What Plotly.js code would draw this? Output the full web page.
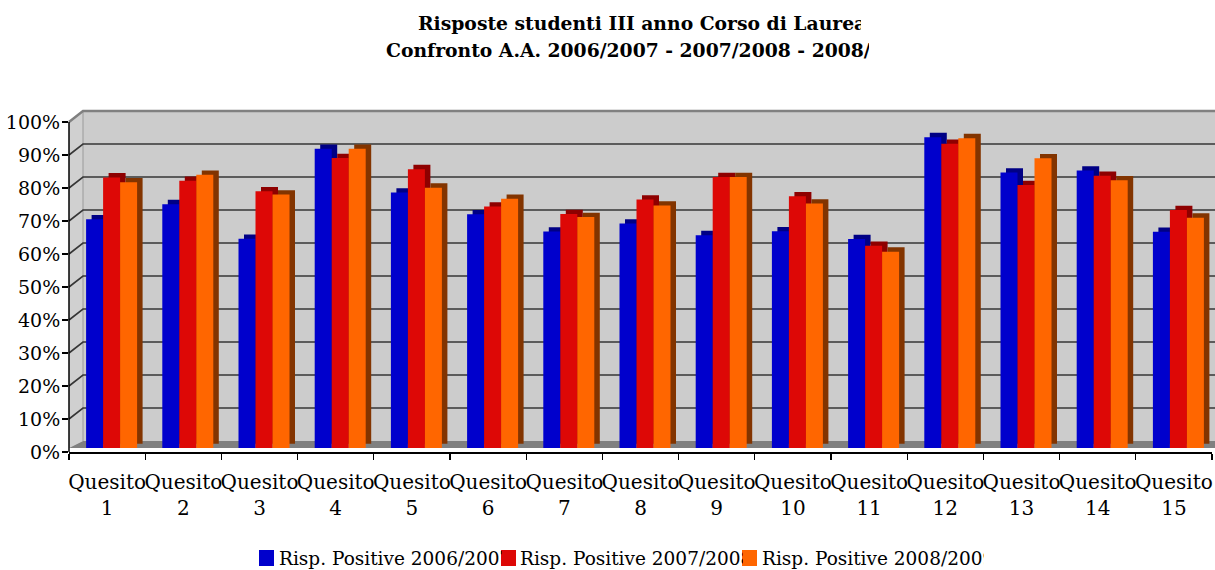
<!DOCTYPE html>
<html>
<head>
<meta charset="utf-8">
<script src="https://cdn.plot.ly/plotly-3.0.1.min.js"></script>
<style>
  html, body { margin: 0; padding: 0; background: #ffffff; }
  #chart { width: 1215px; height: 570px; }
</style>
</head>
<body>
<div id="chart"></div>
<script>
// ---------------- data ----------------
const categories = ['Quesito 1','Quesito 2','Quesito 3','Quesito 4','Quesito 5','Quesito 6','Quesito 7','Quesito 8',
                    'Quesito 9','Quesito 10','Quesito 11','Quesito 12','Quesito 13','Quesito 14','Quesito 15'];
const tickLabels = ['Quesito<br>1','Quesito<br>2','Quesito<br>3','Quesito<br>4','Quesito<br>5','Quesito<br>6','Quesito<br>7','Quesito<br>8',
                    'Quesito<br>9','Quesito<br>10','Quesito<br>11','Quesito<br>12','Quesito<br>13','Quesito<br>14','Quesito<br>15'];
const seriesNames = ['Risp. Positive 2006/2007', 'Risp. Positive 2007/2008', 'Risp. Positive 2008/2009'];
const positive0607 = [69.3, 73.9, 63.4, 90.7, 77.4, 70.8, 65.6, 68.0, 64.5, 65.7, 63.3, 94.2, 83.5, 84.1, 65.5];
const positive0708 = [82.0, 81.0, 77.8, 87.9, 84.5, 73.2, 70.9, 75.3, 82.1, 76.3, 61.3, 92.2, 79.7, 82.5, 72.1];
const positive0809 = [80.5, 82.8, 76.8, 90.7, 78.9, 75.5, 70.0, 73.5, 82.1, 74.1, 59.5, 93.9, 87.8, 81.1, 69.8];
const yTickValues = [0, 10, 20, 30, 40, 50, 60, 70, 80, 90, 100];
const yTickLabels = ['0%','10%','20%','30%','40%','50%','60%','70%','80%','90%','100%'];
const titleLine1 = 'Risposte studenti III anno Corso di Laurea';
const titleLine2 = 'Confronto A.A. 2006/2007 - 2007/2008 - 2008/2009';

// ---------------- geometry / style ----------------
const L = 69, R = 1212, T = 111, B = 452;          // front plot box (pixels)
const PX = x => (x - L) / (R - L);
const PY = y => (B - y) / (B - T);
const pxPerUnit = 3.3;                              // vertical pixels per 1 %
const depthX = 14, depthY = 11;                     // 3D depth of walls
const barFloorY = 448;                              // where bars stand
const catW = (R - L) / categories.length;
const barW = 17 / catW;
const groupShift = 4.5 / catW;
const shadowDX = 5.5 / catW;
const shadowDY = 4.3 / pxPerUnit;

const frontColors  = ['#0000cc', '#dd0806', '#ff6600'];
const shadeColors  = ['#000085', '#8e0000', '#823400'];
const seriesValues = [positive0607, positive0708, positive0809];

const serifFont = '"DejaVu Serif", "Liberation Serif", serif';

// ---------------- traces ----------------
const traces = [];
// empty trace so that the front value axis (y) gets its own subplot and is drawn
traces.push({ type: 'scatter', mode: 'markers', x: [], y: [], yaxis: 'y', hoverinfo: 'skip', showlegend: false });
seriesValues.forEach((vals, i) => {
  const off = groupShift + (i - 1.5) * barW;
  traces.push({
    type: 'bar', x: categories, y: vals, base: shadowDY,
    width: barW, offset: off + shadowDX,
    marker: { color: shadeColors[i], line: { width: 0 } },
    hoverinfo: 'skip', showlegend: false, yaxis: 'y2'
  });
  traces.push({
    type: 'bar', name: seriesNames[i], x: categories, y: vals,
    width: barW, offset: off,
    marker: { color: frontColors[i], line: { width: 0 } },
    showlegend: false, yaxis: 'y2'
  });
});

// ---------------- decorative 3D walls ----------------
const shapes = [];
const pathOf = pts => 'M' + pts.map(p => PX(p[0]) + ',' + PY(p[1])).join('L');
const backBottom = B - depthY;                 // 441
const frontTop = B - 100 * pxPerUnit;          // 122
const backTop = backBottom - 100 * pxPerUnit;  // 111
const farRight = 1260;

shapes.push({ type: 'rect', xref: 'paper', yref: 'paper', layer: 'below',
  x0: PX(L + depthX), x1: PX(farRight), y0: PY(backBottom), y1: PY(backTop),
  fillcolor: '#cccccc', line: { width: 0 } });
shapes.push({ type: 'path', xref: 'paper', yref: 'paper', layer: 'below',
  path: pathOf([[L, barFloorY], [L, frontTop], [L + depthX, backTop], [L + depthX, backBottom]]) + 'Z',
  fillcolor: '#d0d0d0', line: { width: 0 } });
shapes.push({ type: 'path', xref: 'paper', yref: 'paper', layer: 'below',
  path: pathOf([[L, barFloorY], [L + depthX, backBottom], [farRight, backBottom], [farRight, barFloorY]]) + 'Z',
  fillcolor: '#808080', line: { width: 0 } });
shapes.push({ type: 'path', xref: 'paper', yref: 'paper', layer: 'below',
  path: pathOf([[L + depthX, backTop], [L + depthX, backBottom]]),
  line: { color: '#9a9a9a', width: 1 } });
yTickValues.forEach(v => {
  if (v === 0) return;
  const fy = B - v * pxPerUnit;
  const by = backBottom - v * pxPerUnit;
  const top = v === 100;
  shapes.push({ type: 'path', xref: 'paper', yref: 'paper', layer: 'below',
    path: pathOf([[L, fy], [L + depthX, by], [farRight, by]]),
    line: { color: top ? '#808080' : '#363636', width: top ? 2.5 : 1.6 } });
});
shapes.push({ type: 'path', xref: 'paper', yref: 'paper', layer: 'above',
  path: pathOf([[L, B], [L, frontTop]]),
  line: { color: '#000000', width: 1.5 } });

// legend squares
const legendX = [259, 501, 742];
const legendTextX = [278, 519, 761];
const legendClipW = [223, 223, 222];
legendX.forEach((x, i) => {
  shapes.push({ type: 'rect', xref: 'paper', yref: 'paper', layer: 'above',
    x0: PX(x), x1: PX(x + 15), y0: PY(566), y1: PY(550),
    fillcolor: frontColors[i], line: { width: 0 } });
});

// ---------------- annotations (title + legend text, clipped like the original) ----------------
const annotations = [];
annotations.push({ xref: 'paper', yref: 'paper', x: PX(417), y: PY(23), xanchor: 'left', yanchor: 'middle',
  text: '<b>' + titleLine1 + '</b>', showarrow: false, align: 'left', width: 443, borderpad: 0,
  font: { family: '"DejaVu Serif", serif', size: 18.75, color: '#000000' } });
annotations.push({ xref: 'paper', yref: 'paper', x: PX(385), y: PY(50), xanchor: 'left', yanchor: 'middle',
  text: '<b>' + titleLine2 + '</b>', showarrow: false, align: 'left', width: 483, borderpad: 0,
  font: { family: '"DejaVu Serif", serif', size: 18.75, color: '#000000' } });
seriesNames.forEach((name, i) => {
  annotations.push({ xref: 'paper', yref: 'paper', x: PX(legendTextX[i]), y: PY(558), xanchor: 'left', yanchor: 'middle',
    text: name, showarrow: false, align: 'left', width: legendClipW[i], borderpad: 0,
    font: { family: serifFont, size: 18.5, color: '#000000' } });
});

// ---------------- layout ----------------
const plotH = B - T;
const layout = {
  width: 1215, height: 570,
  margin: { l: L, r: 1215 - R, t: T, b: 570 - B, pad: 0 },
  paper_bgcolor: '#ffffff', plot_bgcolor: 'rgba(0,0,0,0)',
  barmode: 'overlay',
  showlegend: false,
  xaxis: {
    type: 'category', range: [-0.5, categories.length - 0.5],
    tickmode: 'array', tickvals: categories, ticktext: tickLabels, tickangle: 0,
    ticks: 'outside', tickson: 'boundaries', ticklen: 6, tickwidth: 1.2, tickcolor: '#000000',
    ticklabelstandoff: 11,
    showline: true, linecolor: '#000000', linewidth: 1.5,
    showgrid: false, zeroline: false,
    tickfont: { family: serifFont, size: 20, color: '#000000' }
  },
  yaxis: {
    range: [0, plotH / pxPerUnit],
    tickmode: 'array', tickvals: yTickValues, ticktext: yTickLabels,
    ticks: 'outside', ticklen: 6, tickwidth: 1.2, tickcolor: '#000000',
    ticklabelstandoff: -2,
    showline: false, showgrid: false, zeroline: false,
    tickfont: { family: serifFont, size: 19, color: '#000000' }
  },
  yaxis2: {
    overlaying: 'y',
    range: [-(B - barFloorY) / pxPerUnit, -(B - barFloorY) / pxPerUnit + plotH / pxPerUnit],
    visible: false, showgrid: false, zeroline: false
  },
  shapes: shapes,
  annotations: annotations
};

Plotly.newPlot('chart', traces, layout, { staticPlot: true, displayModeBar: false });
</script>
</body>
</html>
